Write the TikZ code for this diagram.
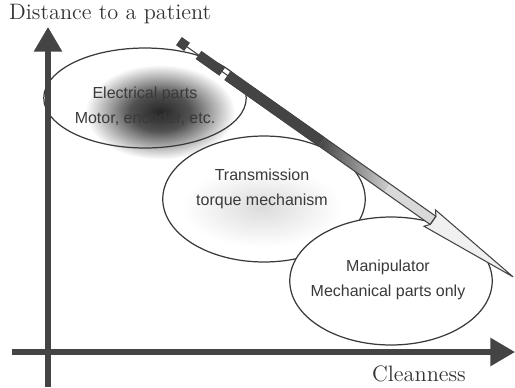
\documentclass[tikz,border=0pt]{standalone}
\usepackage{fontspec}
\usepackage{tikz}
\usetikzlibrary{arrows.meta, positioning, calc, shapes.geometric}
\newfontfamily\partfont{Liberation Sans}
\definecolor{inkgray}{HTML}{3a3a3a}
\definecolor{axisgray}{HTML}{444444}
\pgfdeclareradialshading{dirt}{\pgfpointorigin}{color(0bp)=(black!85); color(10bp)=(black!68); color(25bp)=(white); color(50bp)=(white)}
\pgfdeclareradialshading{lightdirt}{\pgfpointorigin}{color(0bp)=(black!14); color(25bp)=(white); color(50bp)=(white)}

\begin{document}
\begin{tikzpicture}[
    x=0.02cm, y=-0.02cm,
    part/.style={draw=inkgray, ellipse, line width=0.7pt, inner sep=0pt,
                 minimum width=4.05cm, minimum height=#1},
    partlabel/.style={font=\partfont\fontsize{9.1}{14.2}\selectfont, text=inkgray, align=center},
    axis/.style={draw=axisgray, line width=2.9pt, -{Triangle[length=14pt, width=15.5pt]}},
    axislabel/.style={font=\fontsize{12.7}{15}\selectfont, text=black!80}
]
    \useasboundingbox (0,0) rectangle (515,387);

    % dirt on the electrical parts
    \shade[shading=dirt] (160,112) ellipse [x radius=1.5cm, y radius=0.95cm];

    \node[part=2cm] (elec) at (145,98) {};
    \node[part=2.52cm, fill=white] (trans) at (264,199) {};
    \shade[shading=lightdirt] (262,207) ellipse [x radius=1.6cm, y radius=0.8cm];
    \node[part=2.56cm, fill=white] (mani) at (391,281) {};

    \node[partlabel] (eleclab) at (145,106) {Electrical parts\\Motor, encoder, etc.};
    \node[partlabel] (translab) at (262,189) {Transmission\\torque mechanism};
    \node[partlabel] (manilab) at (388,280) {Manipulator\\Mechanical parts only};

    % axes
    \coordinate (ybot) at (48,387);
    \coordinate (ytop) at (48,27);
    \coordinate (xleft) at (12,352);
    \coordinate (xright) at (515,352);
    \draw[axis] (ybot) -- (ytop);
    \draw[axis] (xleft) -- (xright);
    \node[axislabel, anchor=west] (distlab) at (3,14) {Distance to a patient};
    \node[axislabel] (cleanlab) at (419,374) {Cleanness};

    % dirty -> clean arrow
    \coordinate (dirty) at (183,44);
    \coordinate (clean) at (513,277);
    \begin{scope}[shift={(dirty)}, rotate=-35.2]
      \draw[axisgray, line width=0.6pt] (0,0) -- (56,0);
      \fill[axisgray] (-5,-5) rectangle (5,5);
      \fill[axisgray] (19,-5) rectangle (48,5);
      \fill[axisgray] (55,-5.5) rectangle (170,5.5);
      \shade[left color=axisgray, right color=black!18] (170,-5) rectangle (250,5);
      \fill[black!15] (250,-5) rectangle (306,5);
      \filldraw[draw=axisgray, fill=black!6, line width=0.6pt]
        (306,-5) -- (302,-10) -- (404,0) -- (302,10) -- (306,5) -- cycle;
      \draw[axisgray, line width=0.6pt] (55,-5) rectangle (306,5);
    \end{scope}
\end{tikzpicture}
\end{document}
